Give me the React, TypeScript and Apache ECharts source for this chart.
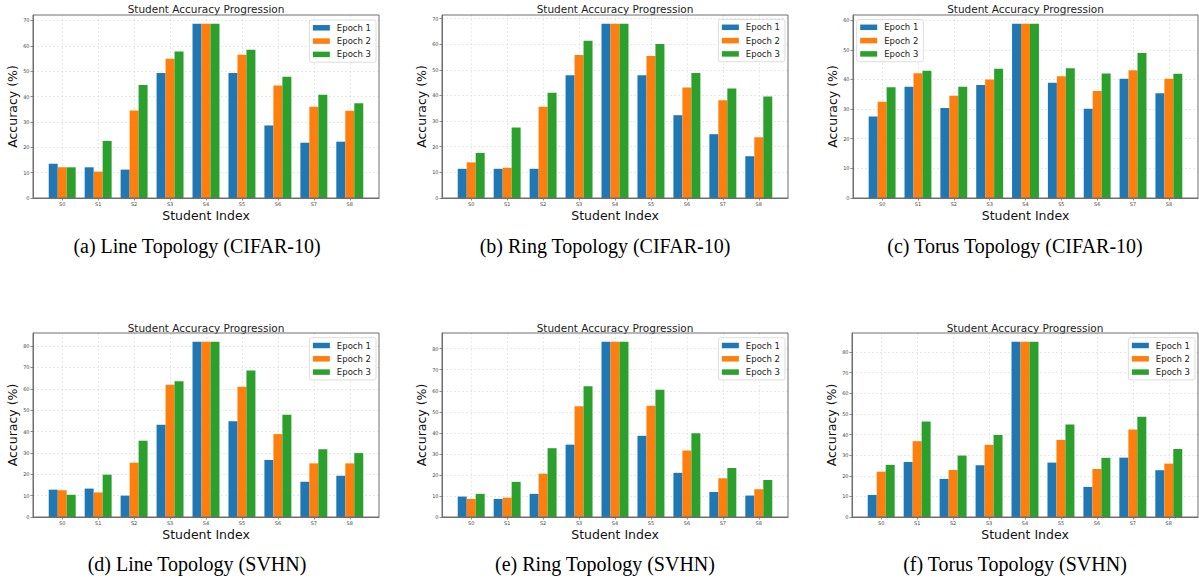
import React, { useEffect, useRef } from 'react';
import * as echarts from 'echarts';

const categories = ['S0', 'S1', 'S2', 'S3', 'S4', 'S5', 'S6', 'S7', 'S8'];
const epochNames = ['Epoch 1', 'Epoch 2', 'Epoch 3'];
const epochColors = ['#1f77b4', '#ff7f0e', '#2ca02c'];
const chartTitle = 'Student Accuracy Progression';
const xName = 'Student Index';
const yName = 'Accuracy (%)';

// (a) Line Topology (CIFAR-10)
const lineCifarE1 = [13.5, 12.1, 11.2, 49.3, 68.7, 49.3, 28.6, 21.8, 22.2];
const lineCifarE2 = [12.1, 10.4, 34.5, 54.9, 68.7, 56.5, 44.3, 36.0, 34.4];
const lineCifarE3 = [12.1, 22.5, 44.5, 57.7, 68.7, 58.4, 47.8, 40.7, 37.3];
// (b) Ring Topology (CIFAR-10)
const ringCifarE1 = [11.4, 11.4, 11.4, 47.9, 68.0, 47.9, 32.3, 24.9, 16.3];
const ringCifarE2 = [13.9, 11.8, 35.6, 55.8, 68.0, 55.4, 43.1, 38.1, 23.7];
const ringCifarE3 = [17.6, 27.5, 41.1, 61.4, 68.0, 60.1, 48.8, 42.7, 39.6];
// (c) Torus Topology (CIFAR-10)
const torusCifarE1 = [27.5, 37.5, 30.4, 38.1, 58.8, 38.9, 30.1, 40.2, 35.3];
const torusCifarE2 = [32.5, 42.1, 34.5, 40.0, 58.8, 41.1, 36.1, 43.1, 40.2];
const torusCifarE3 = [37.4, 42.9, 37.5, 43.6, 58.8, 43.8, 42.0, 48.9, 41.9];
// (d) Line Topology (SVHN)
const lineSvhnE1 = [12.8, 13.3, 10.0, 43.2, 82.0, 44.8, 26.7, 16.5, 19.3];
const lineSvhnE2 = [12.5, 11.5, 25.4, 61.9, 82.0, 61.0, 38.8, 25.1, 25.1];
const lineSvhnE3 = [10.4, 19.8, 35.7, 63.5, 82.0, 68.6, 47.9, 31.7, 29.9];
// (e) Ring Topology (SVHN)
const ringSvhnE1 = [9.7, 8.6, 11.0, 34.4, 83.3, 38.6, 21.0, 11.9, 10.2];
const ringSvhnE2 = [8.6, 9.2, 20.6, 52.7, 83.3, 52.9, 31.6, 18.4, 13.2];
const ringSvhnE3 = [11.0, 16.7, 32.7, 62.1, 83.3, 60.5, 39.8, 23.3, 17.6];
// (f) Torus Topology (SVHN)
const torusSvhnE1 = [10.7, 26.7, 18.5, 25.1, 85.0, 26.4, 14.6, 28.8, 22.7];
const torusSvhnE2 = [22.0, 36.8, 22.8, 35.0, 85.0, 37.4, 23.3, 42.4, 25.9];
const torusSvhnE3 = [25.3, 46.3, 29.8, 39.8, 85.0, 44.9, 28.7, 48.6, 33.0];

const captions = [
  '(a) Line Topology (CIFAR-10)',
  '(b) Ring Topology (CIFAR-10)',
  '(c) Torus Topology (CIFAR-10)',
  '(d) Line Topology (SVHN)',
  '(e) Ring Topology (SVHN)',
  '(f) Torus Topology (SVHN)',
];

const panelSeries = [
  [lineCifarE1, lineCifarE2, lineCifarE3],
  [ringCifarE1, ringCifarE2, ringCifarE3],
  [torusCifarE1, torusCifarE2, torusCifarE3],
  [lineSvhnE1, lineSvhnE2, lineSvhnE3],
  [ringSvhnE1, ringSvhnE2, ringSvhnE3],
  [torusSvhnE1, torusSvhnE2, torusSvhnE3],
];

// layout (pixels)
const layouts = [
  { left: 33, top: 15, width: 346, height: 183, legend: { right: 823, top: 20 }, capX: 197, capY: 246, titleY: 8.5 },
  { left: 442, top: 15, width: 346, height: 183, legend: { right: 414, top: 19.5 }, capX: 605, capY: 246, titleY: 8.5 },
  { left: 853, top: 15, width: 345, height: 183, legend: { left: 856.7, top: 19.5 }, capX: 1015, capY: 246, titleY: 8.5 },
  { left: 33, top: 333, width: 346, height: 184, legend: { right: 823, top: 337.7 }, capX: 197, capY: 564, titleY: 327.5 },
  { left: 442, top: 333, width: 346, height: 184, legend: { right: 414, top: 337.7 }, capX: 605, capY: 564, titleY: 327.5 },
  { left: 852, top: 333, width: 346, height: 184, legend: { right: 4, top: 337.7 }, capX: 1015, capY: 564, titleY: 327.5 },
];

const tickValues = categories.map((_, i) => i);
const frameColor = '#6f6f6f';
const gridLine = { color: '#dedede', width: 0.7, type: [2, 2] as number[] };

export default function App() {
  const ref = useRef<HTMLDivElement>(null);

  useEffect(() => {
    document.body.style.margin = '0';
    if (!ref.current) return;
    const chart = echarts.init(ref.current, undefined, { renderer: 'svg' });

    const grid = layouts.map((l) => ({
      left: l.left,
      top: l.top,
      width: l.width,
      height: l.height,
      show: true,
      borderColor: frameColor,
      borderWidth: 1,
      backgroundColor: 'transparent',
      containLabel: false,
      outerBoundsMode: 'none',
      z: 3,
    }));

    const xAxis = layouts.map((_, i) => ({
      gridIndex: i,
      type: 'value',
      min: -0.8125,
      max: 8.8125,
      axisLine: { show: true, onZero: false, lineStyle: { color: frameColor, width: 1 } },
      axisTick: { show: true, length: 2.5, customValues: tickValues, lineStyle: { color: frameColor, width: 0.8 } },
      axisLabel: {
        customValues: tickValues,
        formatter: (v: number) => categories[Math.round(v)] ?? '',
        fontSize: 5,
        color: '#444',
        margin: 3,
        fontFamily: 'DejaVu Sans',
      },
      splitLine: { show: true, lineStyle: gridLine },
      name: xName,
      nameLocation: 'middle',
      nameGap: 11,
      nameMoveOverlap: false,
      nameTextStyle: { fontSize: 12.5, color: '#111', fontFamily: 'DejaVu Sans' },
    }));

    const yAxis = layouts.map((_, i) => ({
      gridIndex: i,
      type: 'value',
      min: 0,
      max: (v: { max: number }) => v.max * 1.05,
      interval: 10,
      axisLine: { show: true, onZero: false, lineStyle: { color: frameColor, width: 1 } },
      axisTick: { show: true, length: 2.5, lineStyle: { color: frameColor, width: 0.8 } },
      axisLabel: {
        fontSize: 5,
        color: '#444',
        margin: 3.5,
        fontFamily: 'DejaVu Sans',
        showMaxLabel: false,
        formatter: (v: number) => String(Math.round(v)),
      },
      splitLine: { show: true, showMaxLine: false, lineStyle: gridLine },
      name: yName,
      nameLocation: 'middle',
      nameGap: 14,
      nameMoveOverlap: false,
      nameTextStyle: { fontSize: 12.5, color: '#111', fontFamily: 'DejaVu Sans' },
    }));

    const series: any[] = [];
    panelSeries.forEach((group, p) => {
      group.forEach((vals, e) => {
        series.push({
          type: 'bar',
          name: epochNames[e],
          xAxisIndex: p,
          yAxisIndex: p,
          data: vals.map((v, i) => [i, v]),
          itemStyle: { color: epochColors[e] },
          barCategoryGap: '25%',
          barGap: '0%',
          emphasis: { disabled: true },
        });
      });
    });

    const legend = layouts.map((l) => ({
      data: epochNames,
      orient: 'vertical',
      ...l.legend,
      icon: 'rect',
      itemWidth: 17,
      itemHeight: 5.5,
      itemGap: 3.3,
      padding: [2.8, 5, 2.8, 3.5],
      borderColor: '#d4d4d4',
      borderWidth: 0.8,
      borderRadius: 2,
      backgroundColor: 'rgba(255,255,255,0.85)',
      selectedMode: false,
      textStyle: { fontSize: 8.5, lineHeight: 10, color: '#222', fontFamily: 'DejaVu Sans', padding: [0, 0, 0, 2] },
    }));

    const graphic: any[] = [];
    layouts.forEach((l, i) => {
      graphic.push({
        type: 'text',
        x: l.left + l.width / 2,
        y: l.titleY,
        style: {
          text: chartTitle,
          fontSize: 10.5,
          fontFamily: 'DejaVu Sans',
          fill: '#222',
          textAlign: 'center',
          textVerticalAlign: 'middle',
          align: 'center',
          verticalAlign: 'middle',
        },
      });
      graphic.push({
        type: 'text',
        x: l.capX,
        y: l.capY,
        style: {
          text: captions[i],
          fontSize: 20,
          fontFamily: 'Liberation Serif',
          fill: '#000',
          textAlign: 'center',
          textVerticalAlign: 'middle',
          align: 'center',
          verticalAlign: 'middle',
        },
      });
    });

    chart.setOption({
      animation: false,
      textStyle: { fontFamily: 'DejaVu Sans' },
      grid,
      xAxis,
      yAxis,
      legend,
      series,
      graphic,
    });

    return () => chart.dispose();
  }, []);

  return <div ref={ref} style={{ width: 1199, height: 583 }} />;
}
